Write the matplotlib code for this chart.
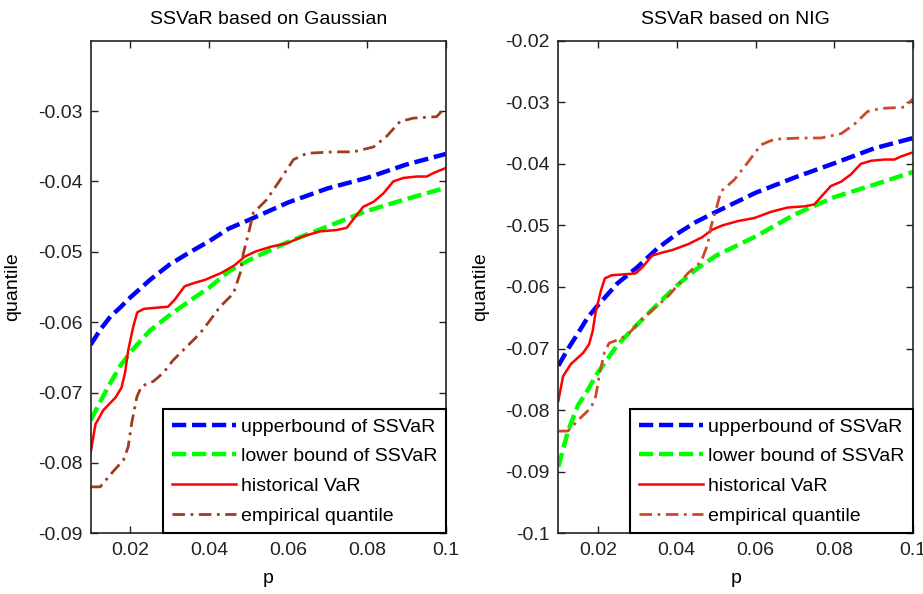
import matplotlib
matplotlib.use("Agg")
from matplotlib import pyplot as plt

plt.rcParams['font.family'] = ['Liberation Sans', 'DejaVu Sans']
plt.rcParams['axes.unicode_minus'] = False

# smooth SSVaR bounds, read on a common grid of p
p_grid = [0.01, 0.0125, 0.015, 0.0175, 0.02, 0.025, 0.03, 0.035, 0.04, 0.045,
          0.05, 0.06, 0.07, 0.08, 0.09, 0.1]
gauss_upper = [-0.0632, -0.0610, -0.0592, -0.0579, -0.0565, -0.0540, -0.0518, -0.0501,
               -0.0485, -0.0467, -0.0455, -0.0430, -0.0410, -0.0395, -0.0376, -0.0361]
gauss_lower = [-0.0739, -0.0712, -0.0686, -0.0662, -0.0643, -0.0612, -0.0590, -0.0570,
               -0.0551, -0.0528, -0.0512, -0.0486, -0.0464, -0.0442, -0.0425, -0.0409]
nig_upper = [-0.0728, -0.0700, -0.0675, -0.0649, -0.0630, -0.0594, -0.0568, -0.0538,
             -0.0514, -0.0494, -0.0478, -0.0447, -0.0422, -0.0399, -0.0375, -0.0358]
nig_lower = [-0.0892, -0.0833, -0.0792, -0.0767, -0.0739, -0.0694, -0.0661, -0.0629,
             -0.0598, -0.0571, -0.0549, -0.0518, -0.0482, -0.0454, -0.0434, -0.0413]

# historical VaR (same in both panels)
p_hist = [0.0100, 0.0112, 0.0132, 0.0163, 0.0178, 0.0187, 0.0195, 0.0208, 0.0218, 0.0235,
          0.0296, 0.0313, 0.0338, 0.0364, 0.0389, 0.0431, 0.0465, 0.0490, 0.0516, 0.0555,
          0.0597, 0.0639, 0.0681, 0.0724, 0.0749, 0.0774, 0.0791, 0.0817, 0.0842, 0.0867,
          0.0893, 0.0927, 0.0952, 0.0969, 0.1000]
hist_var = [-0.0785, -0.0745, -0.0725, -0.0707, -0.0693, -0.0672, -0.0640, -0.0606, -0.0586, -0.0581,
            -0.0578, -0.0568, -0.0549, -0.0544, -0.0540, -0.0530, -0.0519, -0.0507, -0.0500, -0.0493,
            -0.0488, -0.0478, -0.0471, -0.0469, -0.0466, -0.0448, -0.0436, -0.0429, -0.0417, -0.0400,
            -0.0395, -0.0393, -0.0393, -0.0388, -0.0381]

# empirical quantile (same in both panels)
p_emp = [0.0100, 0.0124, 0.0157, 0.0183, 0.0195, 0.0204, 0.0217, 0.0229, 0.0259, 0.0284,
         0.0309, 0.0343, 0.0377, 0.0403, 0.0428, 0.0462, 0.0479, 0.0487, 0.0500, 0.0512,
         0.0546, 0.0580, 0.0614, 0.0648, 0.0715, 0.0766, 0.0817, 0.0850, 0.0884, 0.0918,
         0.0977, 0.1000]
emp_q = [-0.0834, -0.0834, -0.0812, -0.0796, -0.0777, -0.0743, -0.0706, -0.0691, -0.0684, -0.0672,
         -0.0654, -0.0635, -0.0616, -0.0597, -0.0578, -0.0559, -0.0530, -0.0502, -0.0474, -0.0445,
         -0.0426, -0.0398, -0.0369, -0.0360, -0.0358, -0.0358, -0.0351, -0.0336, -0.0315, -0.0310,
         -0.0308, -0.0294]

x_ticks = [0.02, 0.04, 0.06, 0.08, 0.1]
x_labels = ['0.02', '0.04', '0.06', '0.08', '0.1']
gauss_yticks = [-0.09, -0.08, -0.07, -0.06, -0.05, -0.04, -0.03]
gauss_ylabels = ['-0.09', '-0.08', '-0.07', '-0.06', '-0.05', '-0.04', '-0.03']
nig_yticks = [-0.1, -0.09, -0.08, -0.07, -0.06, -0.05, -0.04, -0.03, -0.02]
nig_ylabels = ['-0.1', '-0.09', '-0.08', '-0.07', '-0.06', '-0.05', '-0.04', '-0.03', '-0.02']

fig = plt.figure(figsize=(9.23, 5.94), dpi=100)
ax1 = fig.add_axes([0.0983, 0.1022, 0.3846, 0.8293])
ax2 = fig.add_axes([0.6049, 0.1022, 0.3846, 0.8293])

panels = [
    (ax1, gauss_upper, gauss_lower, '#a03c1e', "SSVaR based on Gaussian", (-0.09, -0.02),
     gauss_yticks, gauss_ylabels),
    (ax2, nig_upper, nig_lower, '#cc4a28', "SSVaR based on NIG", (-0.1, -0.02),
     nig_yticks, nig_ylabels),
]

for ax, upper, lower, emp_color, title, ylim, yt, yl in panels:
    ax.plot(p_grid, upper, color='#0000ff', linewidth=3.2, dashes=(3.2, 1.3),
            label='upperbound of SSVaR')
    ax.plot(p_grid, lower, color='#00ff00', linewidth=3.2, dashes=(3.2, 1.3),
            label='lower bound of SSVaR')
    ax.plot(p_hist, hist_var, color='#ff0000', linewidth=1.8, label='historical VaR')
    ax.plot(p_emp, emp_q, color=emp_color, linewidth=2, dashes=(4.5, 2, 1, 2),
            label='empirical quantile')

    ax.set_xlim(0.01, 0.1)
    ax.set_ylim(*ylim)
    ax.set_xticks(x_ticks)
    ax.set_xticklabels(x_labels)
    ax.set_yticks(yt)
    ax.set_yticklabels(yl)
    ax.tick_params(direction='in', top=True, right=True, length=5, width=1,
                   labelsize=14, pad=6, colors='#222222')
    for s in ax.spines.values():
        s.set_linewidth(1.2)
        s.set_color('#222222')
    ax.set_title(title, fontsize=14, pad=12)
    ax.set_xlabel('p', fontsize=14, labelpad=8)
    ax.set_ylabel('quantile', fontsize=14, labelpad=12)

    leg = ax.legend(loc='lower right', bbox_to_anchor=(1, 0), borderaxespad=0,
                    fontsize=14, handlelength=3.3, handletextpad=0.25,
                    labelspacing=0.62, borderpad=0.45, fancybox=False, framealpha=1)
    leg.get_frame().set_edgecolor('black')
    leg.get_frame().set_linewidth(1.5)

fig.savefig('out.png', dpi=100)
